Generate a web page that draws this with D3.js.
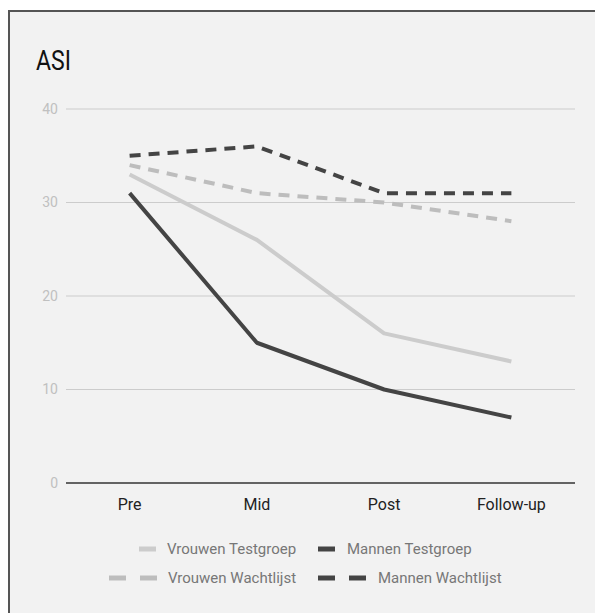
<!DOCTYPE html>
<html><head><meta charset="utf-8">
<script src="https://cdn.jsdelivr.net/npm/d3@7/dist/d3.min.js"></script>
<style>body{margin:0;background:#fff;}svg{display:block;font-family:Roboto,"Noto Sans",sans-serif;}</style>
</head><body>
<script>
const categories = ["Pre", "Mid", "Post", "Follow-up"];
const seriesNames = ["Vrouwen Testgroep", "Mannen Testgroep", "Vrouwen Wachtlijst", "Mannen Wachtlijst"];
const vrouwenTest = [33, 26, 16, 13];
const mannenTest = [31, 15, 10, 7];
const vrouwenWacht = [34, 31, 30, 28];
const mannenWacht = [35, 36, 31, 31];
const yTicks = [0, 10, 20, 30, 40];
const title = "ASI";

const W = 595, H = 613;
const svg = d3.select("body").append("svg").attr("width", W).attr("height", H);
svg.append("rect").attr("x", 9).attr("y", 11).attr("width", W).attr("height", H).attr("fill", "#f2f2f2").attr("stroke", "#555").attr("stroke-width", 2);

const x = d3.scaleBand().domain(categories).range([66, 575]);
const y = d3.scaleLinear().domain([0, 40]).range([483, 109]);

const styles = [
  {data: vrouwenTest, color: "#cccccc", dash: null},
  {data: mannenTest, color: "#444444", dash: null},
  {data: vrouwenWacht, color: "#bdbdbd", dash: "11,8"},
  {data: mannenWacht, color: "#444444", dash: "11,8"}
];

// gridlines
svg.append("g").selectAll("line").data(yTicks.filter(d => d > 0)).join("line")
  .attr("x1", 66).attr("x2", 575).attr("y1", d => y(d)).attr("y2", d => y(d))
  .attr("stroke", "#cccccc").attr("stroke-width", 1);

// y axis labels
const yAxis = d3.axisLeft(y).tickValues(yTicks).tickSize(0).tickPadding(8);
const ya = svg.append("g").attr("transform", "translate(66,0)").call(yAxis);
ya.select(".domain").remove();
ya.selectAll("text").attr("fill", "#c0c0c0").attr("font-size", 14).attr("font-family", "Roboto");

// baseline
svg.append("line").attr("x1", 66).attr("x2", 575).attr("y1", y(0)).attr("y2", y(0)).attr("stroke", "#333").attr("stroke-width", 1.5);

// x axis labels
const xAxis = d3.axisBottom(x).tickSize(0).tickPadding(16);
const xa = svg.append("g").attr("transform", `translate(0,${y(0)})`).call(xAxis);
xa.select(".domain").remove();
xa.selectAll("text").attr("fill", "#222").attr("font-size", 16).attr("font-family", "Roboto");

// lines
const line = d3.line().x((d, i) => x(categories[i]) + x.bandwidth() / 2).y(d => y(d));
const drawOrder = [3, 2, 0, 1];
drawOrder.forEach(k => {
  const s = styles[k];
  svg.append("path").datum(s.data).attr("d", line).attr("fill", "none")
    .attr("stroke", s.color).attr("stroke-width", 4).attr("stroke-linejoin", "round")
    .attr("stroke-dasharray", s.dash);
});

// title
svg.append("text").attr("x", 36).attr("y", 70).attr("font-size", 28).attr("fill", "#111")
  .attr("textLength", 35).attr("lengthAdjust", "spacingAndGlyphs").text(title);

// legend
const legend = [
  {k: 0, sx: 139, tx: 167, y: 549, dashed: false},
  {k: 1, sx: 318, tx: 347, y: 549, dashed: false},
  {k: 2, sx: 109, tx: 168, y: 578, dashed: true},
  {k: 3, sx: 318, tx: 378, y: 578, dashed: true}
];
legend.forEach(l => {
  const s = styles[l.k];
  const g = svg.append("g");
  const segs = l.dashed ? [0, 31] : [0];
  segs.forEach(o => g.append("rect").attr("x", l.sx + o).attr("y", l.y - 2.5).attr("width", 17).attr("height", 5).attr("fill", s.color));
  g.append("text").attr("x", l.tx).attr("y", l.y).attr("dy", "0.35em").attr("font-size", 15).attr("fill", "#777").text(seriesNames[l.k]);
});
</script>
</body></html>
